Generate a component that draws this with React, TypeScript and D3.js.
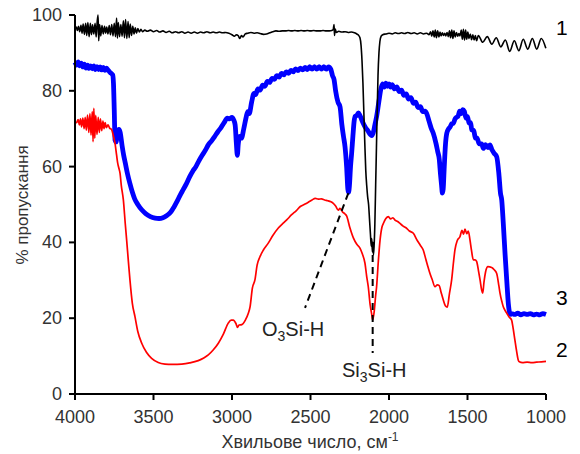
import React from "react";
import * as d3 from "d3";

type P = [number, number];

const xTicks = [4000, 3500, 3000, 2500, 2000, 1500, 1000];
const yTicks = [0, 20, 40, 60, 80, 100];
const xTitle = "Хвильове число, см";
const yTitle = "% пропускання";

const series1: P[] = [[4000,96.3],[3992,96.8],[3985,95.9],[3978,97],[3970,95.6],[3962,97.3],[3955,95.2],[3948,97.6],[3940,94.9],[3932,97.8],[3925,94.6],[3918,98],[3910,94.3],[3902,97.8],[3895,94.8],[3888,97.4],[3880,95],[3872,97.8],[3865,94.2],[3858,98.5],[3853,100],[3849,93.2],[3843,97.5],[3836,94.5],[3828,97.2],[3820,95],[3812,97],[3805,95.2],[3798,96.8],[3790,95],[3782,97.2],[3774,94.8],[3766,97.5],[3758,94.5],[3750,97.8],[3742,94.3],[3735,99.2],[3730,93.9],[3724,98],[3716,94.3],[3708,97.5],[3700,94.4],[3692,98.5],[3685,94],[3678,98.8],[3670,93.8],[3662,98.3],[3655,94],[3648,97.6],[3640,94.6],[3632,97],[3624,95],[3616,96.6],[3608,95.2],[3600,96.4],[3590,95.5],[3580,96.2],[3570,95.6],[3555,96],[3540,95.7],[3520,96],[3500,95.6],[3480,95.9],[3460,95.5],[3440,95.8],[3420,95.4],[3400,95.7],[3380,95.3],[3360,95.6],[3340,95.3],[3320,95.6],[3300,95.2],[3280,95.5],[3260,95.2],[3240,95.5],[3220,95.2],[3200,95.5],[3180,95.3],[3160,95.6],[3140,95.3],[3120,95.5],[3100,95.3],[3080,95.5],[3060,95.3],[3040,95.4],[3020,95.2],[3000,94.8],[2985,94.4],[2972,94.8],[2960,94.5],[2950,93.8],[2940,94.6],[2930,94.2],[2915,95],[2900,95.2],[2880,95.4],[2860,95.2],[2840,95.3],[2820,95.1],[2800,94.9],[2780,95],[2760,95.3],[2740,95.6],[2720,95.8],[2700,95.7],[2680,95.8],[2660,95.8],[2640,95.9],[2620,95.8],[2600,95.9],[2580,95.8],[2560,95.9],[2540,95.8],[2520,95.9],[2500,95.8],[2480,95.9],[2460,95.8],[2440,95.8],[2420,95.9],[2400,95.8],[2380,95.8],[2365,95.9],[2355,96.2],[2350,97.5],[2347,94.6],[2343,96.3],[2335,95.4],[2320,95.7],[2300,95.5],[2280,95.6],[2260,95.4],[2240,95.5],[2220,95.3],[2205,95],[2195,94.7],[2185,94],[2178,92],[2172,88],[2166,82],[2160,74],[2154,66],[2148,59],[2142,55],[2136,52],[2130,50],[2124,46],[2118,42],[2113,39],[2110,41],[2106,37.5],[2102,40],[2099,36.7],[2095,39],[2090,45],[2085,55],[2080,65],[2075,75],[2070,84],[2064,90],[2058,93],[2050,94.4],[2040,94.8],[2020,95],[2000,95.2],[1980,95],[1960,95.3],[1940,95.1],[1920,95.3],[1900,95.1],[1880,95.4],[1860,95.1],[1840,95.3],[1820,95],[1800,95.3],[1780,95],[1760,95.2],[1745,94.8],[1735,95.6],[1728,94.4],[1720,95.8],[1712,94.2],[1705,96],[1698,94],[1690,95.8],[1682,94.2],[1675,95.5],[1668,94.5],[1660,95.3],[1652,94.6],[1645,95.2],[1638,94.5],[1630,95.4],[1622,94.3],[1615,95.8],[1608,94],[1600,96],[1593,93.8],[1586,95.8],[1578,94.2],[1570,95.4],[1562,94.4],[1555,95.1],[1548,94.5],[1540,96],[1533,93.6],[1526,96.2],[1519,93.4],[1512,96],[1505,93.6],[1498,95.5],[1490,93.8],[1482,95],[1474,93.5],[1466,94.8],[1458,93.4],[1450,94.6],[1442,93.2],[1431,94.6],[1403,92.8],[1374,94.3],[1345,92.3],[1317,94.0],[1288,91.6],[1259,93.4],[1231,90.4],[1202,93.2],[1173,90.6],[1145,93.6],[1116,91.0],[1087,93.8],[1059,91.0],[1030,93.8],[1001,91.2]];

const series3: P[] = [[4000,87.5],[3990,86.8],[3980,87.6],[3970,86.6],[3960,87.3],[3950,86.3],[3940,87.0],[3930,86.0],[3920,86.8],[3910,85.9],[3900,86.6],[3890,85.8],[3880,86.6],[3870,85.6],[3860,86.4],[3850,85.6],[3840,86.3],[3830,85.5],[3820,86.2],[3810,85.4],[3800,86.0],[3790,85.5],[3780,85.0],[3770,84.6],[3760,84.2],[3755,82],[3750,75],[3745,67],[3738,66.5],[3730,69],[3720,69.8],[3712,69],[3700,65.5],[3690,63],[3680,61],[3665,58],[3650,55.5],[3635,53.3],[3620,51.5],[3600,50],[3575,48.6],[3550,47.6],[3520,46.8],[3490,46.4],[3465,46.3],[3440,46.5],[3415,47.1],[3390,48],[3370,49.3],[3350,50.8],[3330,52.5],[3310,54],[3290,55.5],[3270,57.3],[3250,58.8],[3230,60],[3210,61.6],[3190,63],[3170,64.3],[3150,65.8],[3130,66.8],[3110,68],[3090,69.2],[3070,70.3],[3050,71.6],[3030,72.8],[3015,72.6],[3000,73],[2990,72.4],[2980,71],[2972,66],[2966,63],[2960,66],[2950,68],[2940,67.5],[2925,70],[2910,73],[2900,74.5],[2890,74],[2875,77],[2860,79.3],[2850,79],[2835,80.5],[2820,80.2],[2805,81.5],[2790,81.2],[2775,82.5],[2760,82.2],[2745,83.3],[2730,83],[2715,84],[2700,83.6],[2685,84.6],[2670,84.2],[2655,85],[2640,84.6],[2625,85.4],[2610,85],[2595,85.8],[2580,85.3],[2565,86],[2550,85.5],[2535,86.2],[2520,85.6],[2505,86.4],[2490,85.7],[2475,86.4],[2460,85.7],[2445,86.4],[2430,85.7],[2415,86.4],[2400,85.7],[2385,86.3],[2370,85.6],[2360,84],[2350,83],[2340,80],[2325,77],[2312,75.8],[2300,71],[2290,68],[2280,65.2],[2270,60],[2262,54],[2258,53.2],[2252,55],[2245,60],[2238,63.5],[2230,68],[2222,72],[2215,73.3],[2205,73.5],[2195,74.2],[2185,73.5],[2175,72.5],[2165,71.5],[2150,70.3],[2135,69.5],[2120,68.5],[2110,68.2],[2100,69],[2090,71],[2079,73.2],[2065,77],[2050,80.8],[2040,81.8],[2030,81],[2020,82],[2010,81.2],[2000,81.8],[1990,81],[1980,81.6],[1965,80.5],[1950,81],[1935,79.8],[1920,80.2],[1905,78.8],[1890,79.2],[1875,77.8],[1860,78.2],[1845,76.7],[1830,77],[1815,75.6],[1800,75.8],[1785,74.5],[1770,74.6],[1760,74],[1745,72],[1730,70],[1718,68.8],[1700,66],[1690,64],[1680,62],[1672,58],[1665,55],[1660,53],[1655,54],[1648,60],[1640,66],[1632,68.8],[1620,70],[1610,70.5],[1600,71.3],[1590,71.4],[1580,72.5],[1570,73],[1560,73.3],[1550,74.6],[1540,74],[1530,75],[1520,74.6],[1510,72.8],[1500,73.2],[1490,71.5],[1480,71.6],[1473,69.7],[1460,69.5],[1450,67.5],[1440,67.6],[1425,66],[1410,66],[1399,64.8],[1385,65.8],[1370,65],[1357,65.7],[1345,64.5],[1330,63.5],[1314,62.6],[1300,58],[1290,53],[1282,51.2],[1272,45],[1261,37.1],[1250,30],[1240,23.9],[1232,21.5],[1225,21],[1219,21.2],[1200,21],[1180,21.3],[1160,20.9],[1140,21.2],[1120,21],[1100,21.2],[1080,20.9],[1060,21.1],[1040,20.9],[1020,21.2],[1000,21]];

const series2: P[] = [[4000,71.8],[3990,71.6],[3980,72.4],[3972,71],[3965,72.6],[3958,70.5],[3950,72.8],[3942,70],[3935,73],[3928,69.6],[3920,73.6],[3912,69],[3905,74],[3898,68.3],[3890,74.5],[3885,66.6],[3880,75.4],[3874,67.5],[3868,73.5],[3860,68.5],[3852,73],[3845,69],[3838,72.6],[3830,69.5],[3822,72],[3815,70],[3808,71.6],[3800,70.3],[3790,71],[3780,70.2],[3766,69.7],[3755,68],[3745,66.1],[3735,63],[3728,60.9],[3720,59.5],[3713,58.2],[3705,55],[3692,51.2],[3680,45],[3671,40.6],[3660,35],[3650,30.1],[3635,24],[3618,20.4],[3600,16.5],[3575,13.4],[3545,11],[3512,9.4],[3470,8.3],[3427,7.9],[3380,7.8],[3320,7.9],[3270,8.2],[3215,8.8],[3180,9.5],[3151,10.3],[3120,11.6],[3087,13.4],[3055,15.8],[3024,18.7],[3005,19.5],[2992,19.5],[2975,18.6],[2965,17.6],[2955,18.2],[2938,18.3],[2915,19.5],[2896,21.3],[2885,23],[2870,28],[2854,30.1],[2840,34],[2822,36.2],[2800,38],[2769,39.8],[2740,41.8],[2705,43.8],[2680,44.8],[2650,46],[2620,47.3],[2590,48.4],[2567,49.4],[2540,50],[2514,50.6],[2490,51.2],[2470,51.6],[2450,51.4],[2430,51.5],[2410,51.2],[2390,51],[2370,50.7],[2355,50.3],[2340,49.6],[2323,48.5],[2312,49],[2295,48],[2280,47.5],[2270,47],[2250,44],[2227,41.2],[2205,39.5],[2185,38.5],[2170,37],[2153,34.5],[2142,31],[2132,28.3],[2120,23.5],[2110,21],[2104,19.5],[2095,21.5],[2085,26],[2079,28.3],[2068,35],[2057,40.6],[2045,44],[2036,45],[2020,46.3],[2004,46.8],[1990,46.2],[1975,46.5],[1962,45.9],[1945,45.5],[1930,45],[1910,44.3],[1890,43.8],[1870,43],[1845,42.4],[1820,40.5],[1800,39.2],[1782,38],[1765,35.5],[1750,33.3],[1739,31.8],[1725,30.2],[1707,28.3],[1692,28.8],[1680,28.6],[1668,26.8],[1654,24.8],[1640,23.2],[1629,22.9],[1615,26.5],[1601,30.1],[1590,34.5],[1580,38],[1565,40.5],[1548,41.5],[1535,43.2],[1525,42.2],[1516,43.5],[1505,42.3],[1495,43],[1484,40.6],[1475,38],[1463,35.4],[1452,35.4],[1442,35],[1430,32.5],[1420,30.1],[1410,27.5],[1403,26.6],[1395,29.5],[1385,32.2],[1370,33.6],[1346,33.4],[1330,32.8],[1314,31.8],[1300,28.5],[1293,26.6],[1280,24.2],[1272,23],[1260,22],[1250,21.3],[1235,20.3],[1219,19.5],[1210,17.5],[1198,14.2],[1188,11.5],[1177,9],[1170,8.5],[1150,8.3],[1120,8.4],[1090,8.3],[1060,8.4],[1030,8.5],[1000,8.6]];

// annotation anchor values (wavenumber, %)
const o3Line: P[] = [[2259, 53], [2535, 22.7]];
const si3Line: P[] = [[2104, 36.7], [2104, 10.8]];

const FONT = "'Liberation Sans', Arial, Helvetica, sans-serif";

export default function App() {
  const W = 580, H = 454;
  const x = d3.scaleLinear().domain([4000, 1000]).range([75, 546]);
  const y = d3.scaleLinear().domain([0, 100]).range([394, 15]);
  const line = d3.line<P>().x(d => x(d[0])).y(d => y(d[1])).curve(d3.curveMonotoneX);
  const seg = d3.line<P>().x(d => x(d[0])).y(d => y(d[1]));

  return (
    <svg width={W} height={H} style={{ position: "fixed", left: 0, top: 0, background: "#fff" }} fontFamily={FONT}>
      <rect width={W} height={H} fill="#fff" />
      <path d={line(series3) || ""} fill="none" stroke="#0000ff" strokeWidth={4.8} strokeLinejoin="round" />
      <path d={line(series2) || ""} fill="none" stroke="#ff0000" strokeWidth={1.7} strokeLinejoin="round" />
      <path d={line(series1) || ""} fill="none" stroke="#000" strokeWidth={1.6} strokeLinejoin="round" />

      <path d={seg(o3Line) || ""} fill="none" stroke="#000" strokeWidth={2} strokeDasharray="7,5" />
      <path d={seg(si3Line) || ""} fill="none" stroke="#000" strokeWidth={2} strokeDasharray="7,5" />

      {/* axes */}
      <line x1={75} x2={75} y1={y(100)} y2={y(0)} stroke="#000" strokeWidth={2} />
      <line x1={75} x2={546} y1={y(0)} y2={y(0)} stroke="#000" strokeWidth={2} />
      {yTicks.map(t => (
        <g key={"y" + t}>
          <line x1={69} x2={75} y1={y(t)} y2={y(t)} stroke="#000" strokeWidth={2} />
          <text x={62} y={y(t) + 6} textAnchor="end" fontSize={18} fill="#333">{t}</text>
        </g>
      ))}
      {xTicks.map(t => (
        <g key={"x" + t}>
          <line x1={x(t)} x2={x(t)} y1={y(0)} y2={y(0) + 6} stroke="#000" strokeWidth={2} />
          <text x={x(t)} y={423} textAnchor="middle" fontSize={18} fill="#333">{t}</text>
        </g>
      ))}
      <text x={310} y={448} textAnchor="middle" fontSize={18} fill="#333">
        {xTitle}<tspan dy={-7} fontSize={12}>-1</tspan>
      </text>
      <text transform="translate(28,205) rotate(-90)" textAnchor="middle" fontSize={17} fill="#333">{yTitle}</text>

      {/* series labels */}
      <text x={556} y={35} fontSize={21} fill="#000">1</text>
      <text x={556} y={305} fontSize={21} fill="#000">3</text>
      <text x={556} y={357} fontSize={21} fill="#000">2</text>

      {/* annotations */}
      <text x={262} y={336} fontSize={20} fill="#222">
        O<tspan dy={5} fontSize={14}>3</tspan><tspan dy={-5}>Si-H</tspan>
      </text>
      <text x={342} y={377} fontSize={20} fill="#222">
        Si<tspan dy={5} fontSize={14}>3</tspan><tspan dy={-5}>Si-H</tspan>
      </text>
    </svg>
  );
}
